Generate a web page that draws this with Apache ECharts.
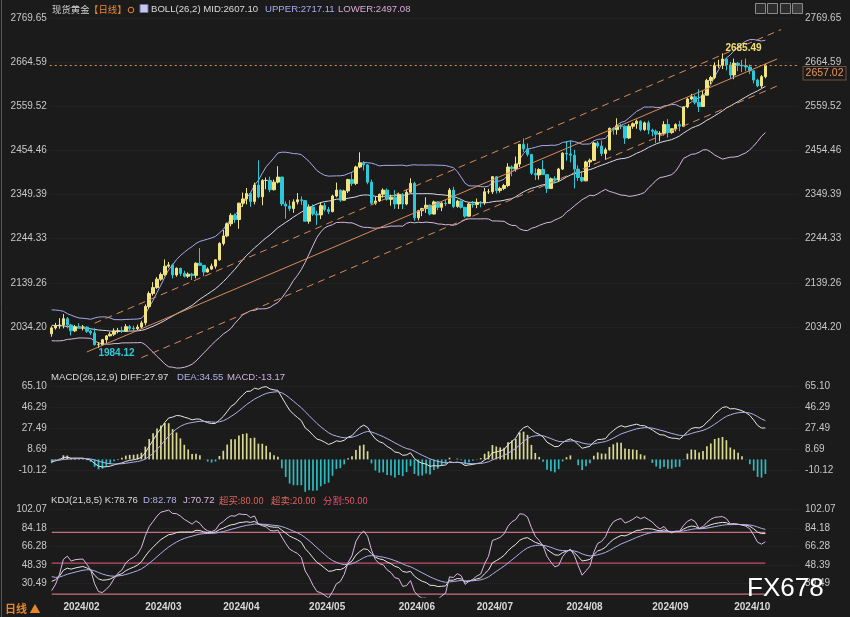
<!DOCTYPE html>
<html><head><meta charset="utf-8">
<script src="https://cdn.jsdelivr.net/npm/echarts@6/dist/echarts.min.js"></script>
<style>html,body{margin:0;padding:0;background:#1b1b1b;}#c{width:850px;height:617px;}</style>
</head><body><div id="c"></div>
<script>
// ---- warm-up rows, used only to seed the indicators: [day, open, close, low, high]
const warmNov2023 = [[1,1983,1983,1970,1990],[2,1983,1985,1979,1993],[3,1985,1992,1979,2004],[6,1992,1978,1975,1995],[7,1978,1970,1965,1980],[8,1970,1950,1947,1972],[9,1950,1958,1944,1965],[10,1958,1940,1932,1962],[13,1940,1946,1931,1950],[14,1946,1963,1937,1970],[15,1963,1959,1955,1972],[16,1959,1981,1956,1988],[17,1981,1980,1976,1994],[20,1980,1977,1966,1984],[21,1977,1998,1974,2007],[22,1998,1990,1986,2008],[23,1990,1992,1988,1997],[24,1992,2001,1990,2003],[27,2001,2014,2001,2018],[28,2014,2041,2013,2044],[29,2041,2044,2035,2052],[30,2044,2036,2031,2051]];
const warmDec2023 = [[1,2036,2072,2035,2075],[4,2072,2029,2016,2135],[5,2029,2019,2010,2035],[6,2019,2025,2015,2034],[7,2025,2028,2017,2034],[8,2028,2004,1995,2036],[11,2004,1981,1976,2006],[12,1981,1980,1973,1993],[13,1980,2027,1976,2032],[14,2027,2036,2025,2048],[15,2036,2019,2017,2047],[18,2019,2027,2016,2030],[19,2027,2040,2023,2047],[20,2040,2031,2028,2044],[21,2031,2045,2025,2049],[22,2045,2053,2043,2071],[26,2053,2067,2052,2070],[27,2067,2077,2064,2084],[28,2077,2065,2061,2088],[29,2065,2063,2058,2070]];
const warmJan2024 = [[2,2063,2058,2055,2079],[3,2058,2042,2030,2058],[4,2042,2043,2035,2052],[5,2043,2045,2024,2063],[8,2045,2027,2017,2046],[9,2027,2029,2022,2040],[10,2029,2024,2021,2040],[11,2024,2029,2013,2039],[12,2029,2049,2027,2062],[15,2049,2055,2048,2059],[16,2055,2029,2023,2057],[17,2029,2006,2001,2030],[18,2006,2023,2005,2025],[19,2023,2029,2021,2034],[22,2029,2021,2016,2033],[23,2021,2029,2011,2031],[24,2029,2014,2010,2036],[25,2014,2021,2010,2024],[26,2021,2018,2010,2025]];

// ---- visible daily candles: [day, open, close, low, high]
const jan2024 = [[29,2018,2032,2011,2036],[30,2032,2037,2028,2044],[31,2037,2039,2030,2055]];
const feb2024 = [[1,2039,2054,2031,2065],[2,2054,2039,2031,2058],[5,2039,2025,2014,2041],[6,2025,2035,2022,2039],[7,2035,2034,2030,2043],[8,2034,2034,2026,2039],[9,2034,2024,2020,2036],[12,2024,2020,2015,2028],[13,2020,1992,1990,2031],[14,1992,1992,1984.12,1998],[15,1992,2004,1991,2006],[16,2004,2013,1996,2015],[19,2013,2017,2012,2022],[20,2017,2025,2013,2031],[21,2025,2026,2019,2032],[22,2026,2024,2020,2035],[23,2024,2035,2023,2041],[26,2035,2031,2026,2039],[27,2031,2030,2024,2037],[28,2030,2034,2025,2040],[29,2034,2044,2030,2049]];
const mar2024 = [[1,2044,2083,2038,2088],[4,2083,2114,2078,2119],[5,2114,2128,2109,2141],[6,2128,2148,2125,2153],[7,2148,2159,2144,2164],[8,2159,2179,2156,2195],[11,2179,2182,2175,2189],[12,2182,2158,2150,2185],[13,2158,2174,2154,2176],[14,2174,2162,2156,2175],[15,2162,2155,2152,2168],[18,2155,2160,2151,2164],[19,2160,2157,2146,2163],[20,2157,2186,2150,2188],[21,2186,2181,2180,2222],[22,2181,2165,2155,2181],[25,2165,2172,2164,2176],[26,2172,2179,2170,2185],[27,2179,2194,2173,2196],[28,2194,2233,2192,2236]];
const apr2024 = [[1,2233,2251,2228,2265],[2,2251,2280,2248,2283],[3,2280,2300,2274,2305],[4,2300,2290,2282,2304],[5,2290,2329,2268,2330],[8,2329,2339,2320,2354],[9,2339,2352,2326,2365],[10,2352,2333,2320,2354],[11,2333,2372,2326,2378],[12,2372,2344,2341,2431],[15,2344,2383,2324,2386],[16,2383,2383,2362,2390],[17,2383,2361,2355,2392],[18,2361,2379,2359,2385],[19,2379,2391,2376,2417],[22,2391,2327,2322,2392],[23,2327,2322,2292,2333],[24,2322,2316,2310,2336],[25,2316,2332,2306,2338],[26,2332,2337,2326,2353],[29,2337,2335,2325,2345],[30,2335,2286,2285,2336]];
const may2024 = [[1,2286,2320,2280,2326],[2,2320,2303,2299,2326],[3,2303,2301,2277,2311],[6,2301,2323,2291,2331],[7,2323,2314,2309,2330],[8,2314,2309,2303,2320],[9,2309,2346,2307,2349],[10,2346,2360,2343,2378],[13,2360,2336,2332,2361],[14,2336,2358,2335,2361],[15,2358,2385,2353,2387],[16,2385,2376,2370,2400],[17,2376,2415,2372,2418],[20,2415,2425,2412,2450],[21,2425,2420,2407,2429],[22,2420,2379,2374,2422],[23,2379,2329,2326,2385],[24,2329,2334,2325,2345],[27,2334,2350,2332,2352],[28,2350,2360,2342,2364],[29,2360,2338,2335,2364],[30,2338,2343,2323,2349],[31,2343,2327,2315,2360]];
const jun2024 = [[3,2327,2350,2315,2354],[4,2350,2327,2315,2353],[5,2327,2355,2324,2361],[6,2355,2376,2353,2388],[7,2376,2294,2287,2380],[10,2294,2311,2288,2313],[11,2311,2316,2298,2318],[12,2316,2324,2306,2343],[13,2324,2303,2300,2326],[14,2303,2332,2302,2335],[17,2332,2319,2312,2334],[18,2319,2329,2310,2331],[19,2329,2328,2322,2337],[20,2328,2360,2327,2365],[21,2360,2321,2317,2368],[24,2321,2334,2318,2337],[25,2334,2319,2316,2335],[26,2319,2298,2294,2320],[27,2298,2327,2297,2330],[28,2327,2326,2318,2334]];
const jul2024 = [[1,2326,2331,2317,2340],[2,2331,2330,2319,2334],[3,2330,2356,2325,2365],[4,2356,2356,2351,2363],[5,2356,2392,2351,2393],[8,2392,2359,2352,2393],[9,2359,2364,2354,2368],[10,2364,2371,2360,2375],[11,2371,2415,2367,2424],[12,2415,2411,2393,2419],[15,2411,2422,2404,2440],[16,2422,2469,2415,2469],[17,2469,2458,2451,2483],[18,2458,2445,2440,2471],[19,2445,2400,2396,2446],[22,2400,2396,2384,2412],[23,2396,2409,2385,2412],[24,2409,2397,2396,2431],[25,2397,2364,2353,2398],[26,2364,2387,2364,2390],[29,2387,2384,2376,2393],[30,2384,2410,2380,2413],[31,2410,2448,2408,2450]];
const aug2024 = [[1,2448,2446,2430,2477],[2,2446,2443,2426,2478],[5,2443,2410,2364,2456],[6,2410,2390,2382,2419],[7,2390,2382,2379,2405],[8,2382,2427,2381,2430],[9,2427,2431,2415,2435],[12,2431,2472,2429,2475],[13,2472,2465,2460,2477],[14,2465,2447,2441,2478],[15,2447,2456,2432,2461],[16,2456,2507,2454,2509],[19,2507,2504,2492,2510],[20,2504,2513,2492,2531],[21,2513,2512,2505,2518],[22,2512,2484,2470,2514],[23,2484,2512,2482,2517],[26,2512,2518,2506,2521],[27,2518,2524,2506,2528],[28,2524,2504,2500,2526],[29,2504,2520,2501,2523],[30,2520,2503,2493,2525]];
const sep2024 = [[2,2503,2500,2488,2506],[3,2500,2493,2472,2504],[4,2493,2495,2476,2500],[5,2495,2516,2490,2524],[6,2516,2497,2485,2529],[9,2497,2506,2494,2507],[10,2506,2516,2500,2519],[11,2516,2512,2500,2525],[12,2512,2558,2510,2560],[13,2558,2577,2555,2580],[16,2577,2582,2574,2589],[17,2582,2569,2564,2586],[18,2569,2559,2546,2600],[19,2559,2586,2558,2596],[20,2586,2621,2585,2625],[23,2621,2628,2612,2632],[24,2628,2657,2624,2664],[25,2657,2657,2651,2670],[26,2657,2672,2648,2685.49],[27,2672,2658,2645,2675],[30,2658,2634,2625,2665]];
const oct2024 = [[1,2634,2662,2624,2673],[2,2662,2657,2643,2665],[3,2657,2656,2641,2670],[4,2656,2653,2643,2673],[7,2653,2644,2636,2659],[8,2644,2622,2614,2646],[9,2622,2608,2605,2625],[10,2608,2630,2603,2634],[11,2630,2657.02,2626,2661]];
// empty future slots on the right of the last candle
const padDates = ['2024-10-14','2024-10-15','2024-10-16','2024-10-17','2024-10-18','2024-10-21','2024-10-22','2024-10-23'];

// ---- axis tick labels
const priceTicks = [2034.20, 2139.26, 2244.33, 2349.39, 2454.46, 2559.52, 2664.59, 2769.65];
const macdTicks = [-10.12, 8.69, 27.49, 46.29, 65.10];
const kdjTicks = [30.49, 48.39, 66.28, 84.18, 102.07];
const kdjLevels = [80, 50, 20];

// ---- annotations (data space)
const lastPrice = 2657.02;
const lowPoint = ['2024-02-14', 1984.12];
const highPoint = ['2024-09-26', 2685.49];
const channelUpper = [['2024-02-13', 2043.2], ['2024-10-17', 2742.0]];
const channelMid = [['2024-02-09', 1974.7], ['2024-10-16', 2672.1]];
const channelLower = [['2024-02-29', 1961.1], ['2024-10-16', 2607.8]];

// ---- header readouts
const bollText = ['BOLL(26,2) MID:2607.10', 'UPPER:2717.11', 'LOWER:2497.08'];
const macdText = ['MACD(26,12,9) DIFF:27.97', 'DEA:34.55', 'MACD:-13.17'];
const kdjText = ['KDJ(21,8,5) K:78.76', 'D:82.78', 'J:70.72', '超买:80.00', '超卖:20.00', '分割:50.00'];

// ================= build =================
const p2 = n => (n < 10 ? '0' : '') + n;
function tag(y, m, rows) { return rows.map(r => ({ date: y + '-' + p2(m) + '-' + p2(r[0]), o: r[1], c: r[2], l: r[3], h: r[4] })); }
const warm = [].concat(tag(2023, 11, warmNov2023), tag(2023, 12, warmDec2023), tag(2024, 1, warmJan2024));
const vis = [].concat(tag(2024,1,jan2024), tag(2024,2,feb2024), tag(2024,3,mar2024), tag(2024,4,apr2024), tag(2024,5,may2024),
  tag(2024,6,jun2024), tag(2024,7,jul2024), tag(2024,8,aug2024), tag(2024,9,sep2024), tag(2024,10,oct2024));
const all = warm.concat(vis);
const W = warm.length;
const categories = vis.map(r => r.date).concat(padDates);
const candles = vis.map(r => [r.o, r.c, r.l, r.h]);
const lastIdx = vis.length - 1;
const monthStart = new Set();
vis.forEach((r, i) => { if (i > 0 && r.date.slice(0, 7) !== vis[i - 1].date.slice(0, 7)) monthStart.add(i); });

// indicators
const r2 = v => v == null ? null : Math.round(v * 100) / 100;
const closes = all.map(r => r.c);
let e12 = closes[0], e26 = closes[0], dea = 0;
const DIFF = [], DEA = [], MACD = [];
closes.forEach((c, i) => {
  if (i > 0) { e12 = (2 * c + 11 * e12) / 13; e26 = (2 * c + 25 * e26) / 27; }
  const d = e12 - e26;
  dea = i === 0 ? d : (2 * d + 8 * dea) / 10;
  DIFF.push(d); DEA.push(dea); MACD.push(2 * (d - dea));
});
const MID = [], UP = [], LO = [];
closes.forEach((c, i) => {
  if (i < 25) { MID.push(null); UP.push(null); LO.push(null); return; }
  let s = 0; for (let k = i - 25; k <= i; k++) s += closes[k];
  const m = s / 26; let v = 0; for (let k = i - 25; k <= i; k++) v += (closes[k] - m) ** 2;
  const sd = Math.sqrt(v / 25);
  MID.push(m); UP.push(m + 2 * sd); LO.push(m - 2 * sd);
});
let K = 50, D = 50; const KK = [], DD = [], JJ = [];
all.forEach((r, i) => {
  let hh = -Infinity, ll = Infinity;
  for (let k = Math.max(0, i - 20); k <= i; k++) { hh = Math.max(hh, all[k].h); ll = Math.min(ll, all[k].l); }
  const rsv = hh === ll ? 50 : (r.c - ll) / (hh - ll) * 100;
  K = (7 * K + rsv) / 8; D = (4 * D + K) / 5;
  KK.push(K); DD.push(D); JJ.push(3 * K - 2 * D);
});
const vs = a => a.slice(W).map(r2);
// level line: value at first and last candle only, joined straight
const levelData = v => vis.map((r, i) => (i === 0 || i === lastIdx) ? v : null);

// ================= style =================
const FF = "'Liberation Sans', Arial, 'Noto Sans CJK SC', sans-serif";
const CJK = "'Noto Sans CJK SC', 'Liberation Sans', sans-serif";
const HF = '9.6px ' + FF;
const HC = '9.4px ' + CJK;
const C = {
  bg: '#1b1b1b', up: '#f2e47c', down: '#2ac8d8', macdPos: '#d8d890', macdNeg: '#2cbcc0',
  axisText: '#c8c8c8', grid: '#2a2a2a', channel: '#d98a5c', last: '#e0904c',
  mid: '#d8d8ec', upper: '#a8a8f0', lower: '#d4b8e0', diff: '#e6e6e6', dea: '#aeaeea',
  k: '#e6e6e6', d: '#aeaeea', j: '#dcb8e4', lvl: '#c8707f', lvl50: '#c2506a', orange: '#e8872a'
};
const GL = 49.75, GW = 748.8;
const grids = [
  { left: GL, width: GW, top: 9.17, height: 361.97 },
  { left: GL, width: GW, top: 381.04, height: 111.3 },
  { left: GL, width: GW, top: 505.0, height: 92.19 }
];
function xAx(g, showLabel) {
  return {
    type: 'category', gridIndex: g, data: categories, boundaryGap: true,
    axisLine: { show: false }, axisTick: { show: false }, splitLine: { show: false },
    axisLabel: showLabel ? {
      show: true, interval: (idx) => monthStart.has(idx), align: 'left', margin: 5,
      formatter: v => v.slice(0, 7).replace('-', '/'), color: '#d8d8d8', fontSize: 10, fontWeight: 'bold', fontFamily: FF
    } : { show: false }
  };
}
function yAx(g, pos, min, max, ticks, margin, split) {
  return {
    type: 'value', gridIndex: g, position: pos, min: min, max: max,
    axisLine: { show: false }, axisTick: { show: false, customValues: ticks },
    axisLabel: { customValues: ticks, formatter: v => Number(v).toFixed(2), color: C.axisText, fontSize: 10, fontFamily: FF, margin: margin },
    splitLine: { show: split, lineStyle: { color: C.grid, type: 'dotted', width: 1 } }
  };
}
const line = (name, data, color, xi, yi, extra) => Object.assign({
  name, type: 'line', data, xAxisIndex: xi, yAxisIndex: yi, symbol: 'none', showSymbol: false,
  lineStyle: { color, width: 1 }, itemStyle: { color }, silent: true, z: 3
}, extra || {});

function txt(x, y, s, color, font, extra) {
  return Object.assign({ type: 'text', x, y, silent: true, z: 100,
    style: { text: s, fill: color, font: font || HF, verticalAlign: 'middle', align: 'left' } }, extra || {});
}

const option = {
  backgroundColor: C.bg,
  animation: false,
  grid: grids,
  xAxis: [xAx(0, false), xAx(1, false), xAx(2, true)],
  yAxis: [
    yAx(0, 'right', 1929.136, 2790.66, priceTicks, 6.5, true),
    yAx(0, 'left', 1929.136, 2790.66, priceTicks, 3, false),
    yAx(1, 'right', -29.5, 70.17, macdTicks, 6.5, true),
    yAx(1, 'left', -29.5, 70.17, macdTicks, 3, false),
    yAx(2, 'right', 17, 106.5, kdjTicks, 6.5, true),
    yAx(2, 'left', 17, 106.5, kdjTicks, 3, false)
  ],
  series: [
    line('MID', vs(MID), C.mid, 0, 0),
    line('UPPER', vs(UP), C.upper, 0, 0),
    line('LOWER', vs(LO), C.lower, 0, 0),
    {
      name: '现货黄金', type: 'candlestick', xAxisIndex: 0, yAxisIndex: 0, data: candles, barWidth: 3, z: 4, silent: true,
      itemStyle: { color: C.up, color0: C.down, borderColor: C.up, borderColor0: C.down, borderWidth: 1 },
      markLine: {
        silent: true, symbol: ['none', 'none'], animation: false, z: 5,
        data: [
          [{ coord: channelUpper[0], lineStyle: { color: C.channel, type: [7, 5], width: 1 }, label: { show: false } }, { coord: channelUpper[1] }],
          [{ coord: channelMid[0], lineStyle: { color: C.channel, type: 'solid', width: 1 }, label: { show: false } }, { coord: channelMid[1] }],
          [{ coord: channelLower[0], lineStyle: { color: C.channel, type: [7, 5], width: 1 }, label: { show: false } }, { coord: channelLower[1] }],
          {
            yAxis: lastPrice, lineStyle: { color: C.last, type: [2, 3], width: 1 },
            label: { show: true, position: 'end', distance: 5, offset: [0, 8], formatter: lastPrice.toFixed(2),
              color: '#e8955a', fontSize: 10.5, fontFamily: FF, backgroundColor: '#1d1a18', borderColor: '#6b5444', borderWidth: 1, padding: [1, 2] }
          }
        ]
      },
      markPoint: {
        silent: true, symbol: 'circle', symbolSize: 1, itemStyle: { color: 'rgba(0,0,0,0)' }, animation: false,
        data: [
          { coord: lowPoint, label: { show: true, position: 'bottom', distance: 0, offset: [18, 0], formatter: lowPoint[1].toFixed(2), color: '#2ec8d8', fontSize: 10, fontWeight: 'bold', fontFamily: FF } },
          { coord: highPoint, label: { show: true, position: 'top', distance: 0, offset: [21, 0], formatter: highPoint[1].toFixed(2), color: '#f0e070', fontSize: 10, fontWeight: 'bold', fontFamily: FF } }
        ]
      }
    },
    {
      name: 'MACD', type: 'bar', xAxisIndex: 1, yAxisIndex: 2, data: vs(MACD), barWidth: 1.7, silent: true, z: 2,
      itemStyle: { color: p => (p.value >= 0 ? C.macdPos : C.macdNeg) }
    },
    line('DIFF', vs(DIFF), C.diff, 1, 2),
    line('DEA', vs(DEA), C.dea, 1, 2),
    line('L80', levelData(kdjLevels[0]), C.lvl, 2, 4, { connectNulls: true, z: 2, lineStyle: { color: C.lvl, width: 1.2 } }),
    line('L50', levelData(kdjLevels[1]), C.lvl50, 2, 4, { connectNulls: true, z: 2, lineStyle: { color: C.lvl50, width: 1.2 } }),
    line('L20', levelData(kdjLevels[2]), C.lvl, 2, 4, { connectNulls: true, z: 2, lineStyle: { color: C.lvl, width: 1.2 } }),
    line('K', vs(KK), C.k, 2, 4),
    line('D', vs(DD), C.d, 2, 4),
    line('J', vs(JJ), C.j, 2, 4)
  ],
  graphic: [
    { type: 'line', silent: true, shape: { x1: 1.5, y1: 0, x2: 1.5, y2: 617 }, style: { stroke: '#555', lineWidth: 1 } },
    txt(52, 9, '现货黄金', '#d0d0d0', HC),
    txt(89, 9, '【日线】', C.orange, HC),
    { type: 'circle', silent: true, shape: { cx: 131, cy: 10, r: 2.8 }, style: { stroke: C.orange, fill: 'none', lineWidth: 1 } },
    { type: 'rect', silent: true, shape: { x: 140, y: 4.5, width: 8, height: 8 }, style: { fill: '#c8c8ee', stroke: '#7070b0', lineWidth: 1 } },
    txt(151, 9, bollText[0], '#dadada'),
    txt(265, 9, bollText[1], '#a8a8f0'),
    txt(338, 9, bollText[2], '#d8a8d8'),
    txt(51, 377.5, macdText[0], '#dadada'),
    txt(177, 377.5, macdText[1], '#b0b0ea'),
    txt(227, 377.5, macdText[2], '#d0b0e0'),
    txt(51, 500.5, kdjText[0], '#dadada'),
    txt(143, 500.5, kdjText[1], '#b0b0ea'),
    txt(183, 500.5, kdjText[2], '#d8b8e0'),
    txt(219, 500.5, kdjText[3], '#e0605a', HC),
    txt(271, 500.5, kdjText[4], '#e0605a', HC),
    txt(323, 500.5, kdjText[5], '#e8506e', HC),
    txt(5, 609, '日线 ▲', C.orange, 'bold 11px ' + CJK),
    { type: 'rect', silent: true, shape: { x: 755.5, y: 3.5, width: 10, height: 10 }, style: { fill: '#2c2c2c', stroke: '#8a8a8a', lineWidth: 1 } },
    { type: 'rect', silent: true, shape: { x: 767.5, y: 3.5, width: 10, height: 10 }, style: { fill: '#2c2c2c', stroke: '#8a8a8a', lineWidth: 1 } },
    { type: 'rect', silent: true, shape: { x: 780.5, y: 3.5, width: 10, height: 10 }, style: { fill: '#2c2c2c', stroke: '#8a8a8a', lineWidth: 1 } },
    { type: 'rect', silent: true, shape: { x: 792.5, y: 3.5, width: 10, height: 10 }, style: { fill: '#3a3a3a', stroke: '#8a8a8a', lineWidth: 1 } },
    txt(747, 589, 'FX678', '#ffffff', '26px ' + FF)
  ]
};
const chart = echarts.init(document.getElementById('c'), null, { renderer: 'canvas' });
chart.setOption(option);
</script>
</body></html>
